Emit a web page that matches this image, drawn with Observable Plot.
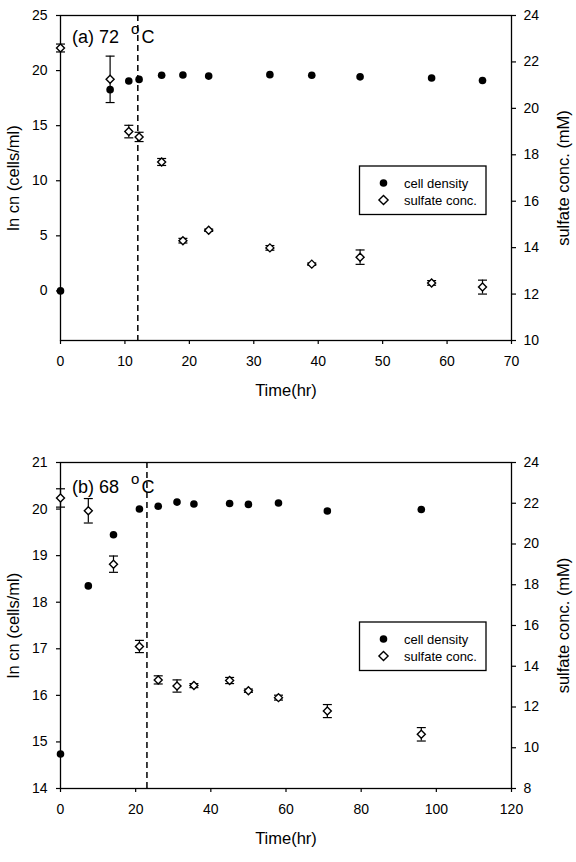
<!DOCTYPE html>
<html>
<head>
<meta charset="utf-8">
<script src="https://cdn.jsdelivr.net/npm/d3@7"></script>
<script src="https://cdn.jsdelivr.net/npm/@observablehq/plot@0.6"></script>
<style>
  body { margin: 0; background: #fff; }
  #chart svg { display: block; }
</style>
</head>
<body>
<div id="chart"></div>
<script>
// ---------- Data: panel (a) 72 °C ----------
const timesA    = [0, 7.7, 10.6, 12.2, 15.7, 19.0, 23.0, 32.5, 39.0, 46.5, 57.6, 65.5];
const lnCnA     = [0, 18.27, 19.06, 19.2, 19.57, 19.6, 19.5, 19.63, 19.57, 19.43, 19.33, 19.1];
const sulfateA  = [22.6, 21.25, 19.0, 18.77, 17.69, 14.30, 14.75, 13.99, 13.29, 13.59, 12.48, 12.30];
const sulfErrA  = [0.17, 1.0, 0.27, 0.2, 0.15, 0.1, 0.05, 0.1, 0.05, 0.31, 0.1, 0.3];
const dashA     = [12];
const xTicksA   = [0, 10, 20, 30, 40, 50, 60, 70];
const yTicksA   = [0, 5, 10, 15, 20, 25];
const rTicksA   = [10, 12, 14, 16, 18, 20, 22, 24];

// ---------- Data: panel (b) 68 °C ----------
const timesB    = [0, 7.4, 14.1, 21.0, 26.0, 31.0, 35.5, 45.0, 50.0, 58.0, 71.0, 96.0];
const lnCnB     = [14.74, 18.35, 19.45, 20.0, 20.06, 20.15, 20.11, 20.12, 20.10, 20.13, 19.96, 19.99];
const sulfateB  = [22.26, 21.63, 19.01, 14.97, 13.33, 13.03, 13.05, 13.30, 12.80, 12.46, 11.80, 10.66];
const sulfErrB  = [0.45, 0.6, 0.4, 0.3, 0.2, 0.3, 0.1, 0.15, 0.08, 0.12, 0.32, 0.33];
const dashB     = [23];
const xTicksB   = [0, 20, 40, 60, 80, 100, 120];
const yTicksB   = [14, 15, 16, 17, 18, 19, 20, 21];
const rTicksB   = [8, 10, 12, 14, 16, 18, 20, 22, 24];

const legendLabels = ["cell density", "sulfate conc."];
const xTitle = "Time(hr)";
const yTitle = "ln cn (cells/ml)";
const rTitle = "sulfate conc. (mM)";

const FONT = "'Liberation Sans', Arial, sans-serif";

const capSymbol = { draw(ctx) { ctx.moveTo(-4.5, 0); ctx.lineTo(4.5, 0); } };

function panel(o) {
  const [l0, l1] = o.yDomain, [r0, r1] = o.rDomain;
  const toL = v => l0 + (v - r0) * (l1 - l0) / (r1 - r0);
  const fromL = y => r0 + (y - l0) * (r1 - r0) / (l1 - l0);
  const rows = o.times.map((t, i) => ({
    t, ln: o.ln[i],
    s: toL(o.sulf[i]),
    lo: toL(o.sulf[i] - o.err[i]),
    hi: toL(o.sulf[i] + o.err[i])
  }));
  const svg = Plot.plot({
    width: 576, height: o.height,
    marginLeft: 60, marginRight: 65, marginTop: o.mt, marginBottom: o.mb,
    style: { fontFamily: FONT, fontSize: "14px", color: "black", background: "white" },
    x: { domain: o.xDomain },
    y: { domain: o.yDomain },
    marks: [
      Plot.axisX({ ticks: o.xTicks, tickFormat: d => String(d), tickSize: 4, tickPadding: 12, label: null, fontSize: 14, strokeWidth: 1.2 }),
      Plot.axisY({ ticks: o.yTicks, tickFormat: d => String(d), tickSize: 4, tickPadding: 9, label: null, fontSize: 14, strokeWidth: 1.2 }),
      Plot.axisY({ anchor: "right", ticks: o.rTicks.map(toL), tickFormat: d => String(Math.round(fromL(d))),
                   tickSize: 4, tickPadding: 8, label: null, fontSize: 14, strokeWidth: 1.2 }),
      Plot.frame({ stroke: "black", strokeWidth: 1.3 }),
      Plot.ruleX(o.dash, { stroke: "black", strokeWidth: 1.5, strokeDasharray: "6,4" }),
      Plot.ruleX(rows, { x: "t", y1: "lo", y2: "hi", stroke: "black", strokeWidth: 1.2 }),
      Plot.dot(rows, { x: "t", y: "lo", symbol: capSymbol, fill: "none", stroke: "black", strokeWidth: 1.2 }),
      Plot.dot(rows, { x: "t", y: "hi", symbol: capSymbol, fill: "none", stroke: "black", strokeWidth: 1.2 }),
      Plot.dot(rows, { x: "t", y: "ln", r: 3.8, fill: "black", stroke: "none" }),
      Plot.dot(rows, { x: "t", y: "s", symbol: "diamond2", r: 3.6, fill: "white", stroke: "black", strokeWidth: 1.4 }),
      Plot.text([xTitle], { text: d => d, frameAnchor: "bottom", textAnchor: "middle", lineAnchor: "middle", dy: 50, fontSize: 16.5 }),
      Plot.text([yTitle], { text: d => d, frameAnchor: "left", textAnchor: "middle", lineAnchor: "middle", rotate: -90, dx: -47, fontSize: 16.5 }),
      Plot.text([rTitle], { text: d => d, frameAnchor: "right", textAnchor: "middle", lineAnchor: "middle", rotate: -90, dx: 52, fontSize: 16.5 })
    ]
  });
  const s = d3.select(svg);
  // panel label
  const lab = s.append("text").attr("font-family", FONT).attr("fill", "black").attr("text-anchor", "start");
  lab.append("tspan").attr("x", 72).attr("y", o.labY).attr("font-size", 18).text(o.labText);
  lab.append("tspan").attr("x", 131).attr("y", o.labY - 9).attr("font-size", 15).text("o");
  lab.append("tspan").attr("x", 141.5).attr("y", o.labY).attr("font-size", 18).text("C");
  // legend
  const g = s.append("g").attr("font-family", FONT).attr("font-size", 13).attr("fill", "black").attr("text-anchor", "start");
  g.append("rect").attr("x", 359.5).attr("y", o.legY).attr("width", 126.5).attr("height", 48.5)
    .attr("fill", "white").attr("stroke", "black").attr("stroke-width", 1.3);
  const r1y = o.legY + 17, r2y = o.legY + 34;
  g.append("circle").attr("cx", 383.5).attr("cy", r1y).attr("r", 3.8).attr("fill", "black");
  g.append("path").attr("d", `M383.5,${r2y - 4.6}L388.1,${r2y}L383.5,${r2y + 4.6}L378.9,${r2y}Z`)
    .attr("fill", "white").attr("stroke", "black").attr("stroke-width", 1.4);
  g.append("text").attr("x", 404).attr("y", r1y).attr("dy", "0.35em").text(legendLabels[0]);
  g.append("text").attr("x", 404).attr("y", r2y).attr("dy", "0.35em").text(legendLabels[1]);
  return svg;
}

const chart = document.getElementById("chart");
chart.append(panel({
  times: timesA, ln: lnCnA, sulf: sulfateA, err: sulfErrA, dash: dashA,
  xDomain: [0, 70], xTicks: xTicksA, yDomain: [-4.5, 25], yTicks: yTicksA,
  rDomain: [10, 24], rTicks: rTicksA,
  height: 440, mt: 15, mb: 100, labY: 43, labText: "(a) 72 ", legY: 166
}));
chart.append(panel({
  times: timesB, ln: lnCnB, sulf: sulfateB, err: sulfErrB, dash: dashB,
  xDomain: [0, 120], xTicks: xTicksB, yDomain: [14, 21], yTicks: yTicksB,
  rDomain: [8, 24], rTicks: rTicksB,
  height: 422, mt: 22, mb: 74, labY: 53, labText: "(b) 68 ", legY: 182
}));
</script>
</body>
</html>
